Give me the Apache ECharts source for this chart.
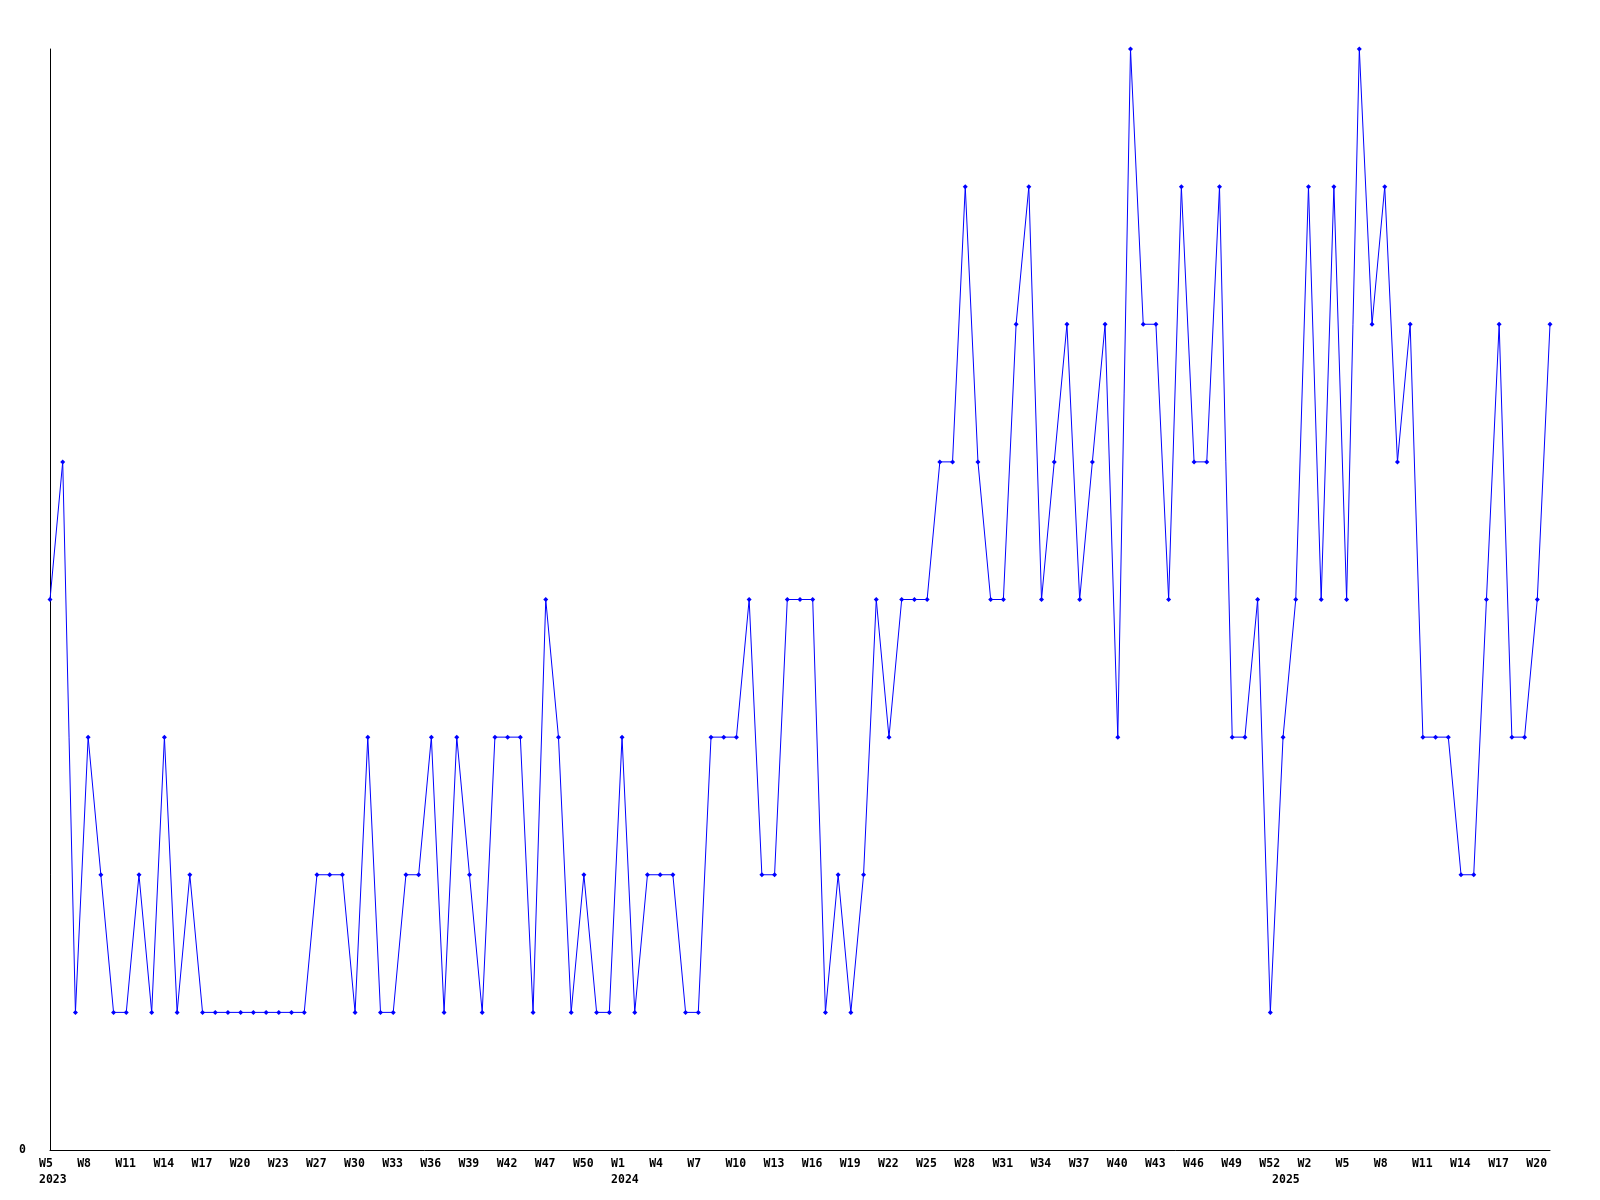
<!DOCTYPE html>
<html><head><meta charset="utf-8">
<script src="https://cdn.jsdelivr.net/npm/echarts@6/dist/echarts.min.js"></script>
<style>html,body{margin:0;padding:0;background:#fff}#c{width:1600px;height:1200px}</style>
</head><body><div id="c"></div>
<script>
// week categories (one per data point)
const weeks = [
  "W5","W6","W7","W8","W9","W10","W11","W12","W13","W14","W15","W16","W17","W18","W19","W20","W21","W22","W23","W24","W25",
  "W27","W28","W29","W30","W31","W32","W33","W34","W35","W36","W37","W38","W39","W40","W41","W42","W44","W45",
  "W47","W48","W49","W50","W51","W52",
  "W1","W2","W3","W4","W5","W6","W7","W8","W9","W10","W11","W12","W13","W14","W15","W16","W17","W18","W19","W20",
  "W21","W22","W23","W24","W25","W26","W27","W28","W29","W30","W31","W32","W33","W34","W35","W36","W37","W38","W39","W40",
  "W41","W42","W43","W44","W45","W46","W47","W48","W49","W50","W51","W52",
  "W1","W1","W2","W3","W4","W5","W6","W7","W8","W9","W10","W11","W12","W13","W14","W15","W16","W17","W18","W19","W20","W21"
];
// year marks: index of category where each year label is shown
const yearMarkIndex = [0, 45, 97];
const yearMarkText = ["2023", "2024", "2025"];
// series values
const values = [
  4,5,1,3,2,1,1,2,1,3,1,2,1,1,1,1,1,1,1,1,1,
  2,2,2,1,3,1,1,2,2,3,1,3,2,1,3,3,3,1,4,3,1,
  2,1,1,3,1,2,2,2,1,1,3,3,3,4,2,2,4,4,4,1,
  2,1,2,4,3,4,4,4,5,5,7,5,4,4,6,7,4,5,6,4,
  5,6,3,8,6,6,4,7,5,5,7,3,3,4,1,3,4,7,4,7,
  4,8,6,7,5,6,3,3,3,2,2,4,6,3,3,4,6
];
const yTickLabels = ["0"];

const FONT = "'DejaVu Sans Mono', 'Liberation Mono', monospace";
const chart = echarts.init(document.getElementById('c'), null, {renderer: 'canvas'});
chart.setOption({
  animation: false,
  backgroundColor: '#ffffff',
  grid: {left: 50, right: 50, top: 49, bottom: 50, containLabel: false},
  xAxis: {
    type: 'category', data: weeks, boundaryGap: false,
    axisLine: {show: true, lineStyle: {color: '#000', width: 1}},
    axisTick: {show: false}, splitLine: {show: false},
    axisLabel: {
      interval: function (i) { return i % 3 === 0 || yearMarkIndex.indexOf(i) >= 0; },
      margin: 6, align: 'center',
      formatter: function (v, i) {
        const w = (i % 3 === 0) ? v : '\u00a0';
        const k = yearMarkIndex.indexOf(i);
        return '{w|' + w + '}' + (k >= 0 ? '\n{w|' + yearMarkText[k] + '}' : '');
      },
      rich: {w: {width: 22, align: 'left', fontFamily: FONT, fontWeight: 'bold', fontSize: 11.5, lineHeight: 16, color: '#000'}}
    }
  },
  yAxis: {
    type: 'value', min: 0, max: 8, interval: 8,
    axisLine: {show: true, lineStyle: {color: '#000', width: 1}},
    axisTick: {show: false}, splitLine: {show: false},
    axisLabel: {
      margin: 24, fontFamily: FONT, fontWeight: 'bold', fontSize: 11.5, color: '#000',
      formatter: function (v) { return v === 0 ? yTickLabels[0] : ''; }
    }
  },
  series: [{
    type: 'line', data: values, symbol: 'diamond', symbolSize: 5, showAllSymbol: true,
    itemStyle: {color: '#0000ff'}, lineStyle: {color: '#0000ff', width: 1}
  }]
});
</script></body></html>
